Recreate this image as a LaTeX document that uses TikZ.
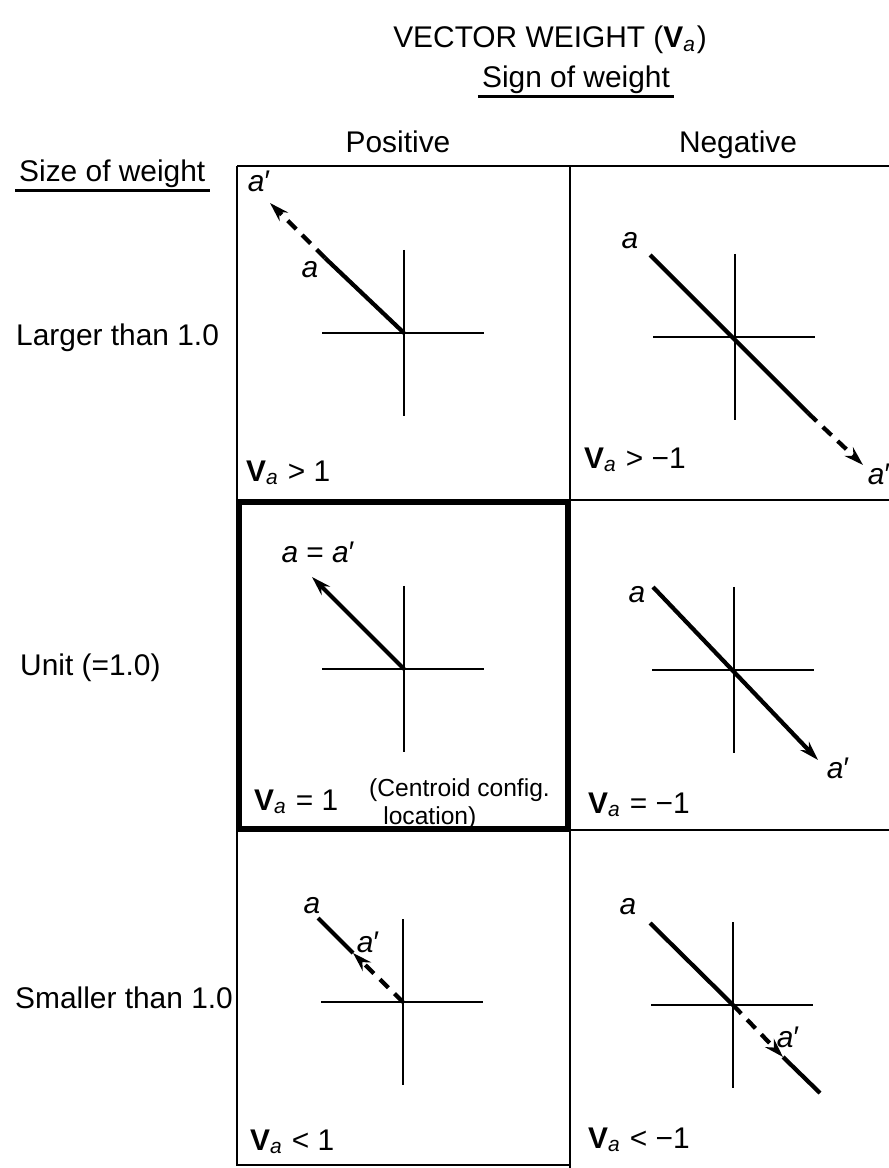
\documentclass[tikz,border=0pt]{standalone}
\usepackage{fontspec}
\setmainfont{Liberation Sans}
\usepackage{tikz}
\usetikzlibrary{positioning, arrows.meta}

\newcommand{\Va}{\textbf{V}\textsubscript{\itshape a}}

\begin{document}
\begin{tikzpicture}[x=0.01cm, y=-0.01cm,
    every node/.style={font=\fontsize{8.5}{10}\selectfont, inner sep=1pt},
    grid/.style={line width=0.8pt},
    axis/.style={line width=0.6pt},
    vec/.style={line width=1.2pt},
    vecdash/.style={vec, dash pattern=on 3.4pt off 2.4pt},
    tip/.style={-{Stealth[length=5.5pt, width=3.4pt]}},
    small/.style={font=\fontsize{7}{8}\selectfont, align=left}]
\useasboundingbox (0,0) rectangle (889,1168);

% headings
\node (title) at (550,40) {VECTOR WEIGHT (\Va)};
\node (signhd) at (576,80) {Sign of weight};
\draw[grid] ([yshift=-2.5pt]signhd.base west) -- ([yshift=-2.5pt]signhd.base east);
\node[anchor=base] (pos) at (398,153) {Positive};
\node[anchor=base] (neg) at (738,153) {Negative};
\node[anchor=west] (sizehd) at (15,174) {Size of weight};
\draw[grid] ([yshift=-2.5pt]sizehd.base west) -- ([yshift=-2.5pt]sizehd.base east);
\node[anchor=west] (larger) at (12,338) {Larger than 1.0};
\node[anchor=west] (unit) at (16,668) {Unit (=1.0)};
\node[anchor=west] (smaller) at (11,998) {Smaller than 1.0};

% table
\draw[grid] (237,166) -- (889,166);
\draw[grid] (237,500) -- (889,500);
\draw[grid] (237,830) -- (889,830);
\draw[grid] (237,166) -- (237,1165) -- (570,1165);
\draw[grid] (570,166) -- (570,1168);
\draw[line width=1.8pt] (239,502) rectangle (568,829);

% axes in every cell
\foreach \c/\cx/\cy in {c11/404/333, c12/735/337, c21/404/669,
                        c22/734/670, c31/403/1002, c32/733/1005} {
  \coordinate (\c) at (\cx,\cy);
  \draw[axis] (\cx-82,\cy) -- (\cx+80,\cy);
  \draw[axis] (\cx,\cy-83) -- (\cx,\cy+83);
}

% positive, larger
\coordinate (a11) at (325,258);
\coordinate (t11) at (270,203);
\draw[vec] (c11) -- (a11);
\draw[vecdash, tip] (a11) -- (t11);
\node (la11) at (259,181) {\textit{a}′};
\node (lb11) at (310,270) {\textit{a}};
\node[anchor=west] (v11) at (242,473) {\Va\ > 1};

% negative, larger
\coordinate (a12) at (650,255);
\coordinate (d12) at (808,413);
\coordinate (t12) at (863,465);
\draw[vec] (a12) -- (d12);
\draw[vecdash, tip] (d12) -- (t12);
\node (la12) at (630,241) {\textit{a}};
\node (lb12) at (879,474) {\textit{a}′};
\node[anchor=west] (v12) at (580,460) {\Va\ > −1};

% positive, unit
\coordinate (t21) at (312,577);
\draw[vec, tip] (c21) -- (t21);
\node (la21) at (318,552) {\textit{a} = \textit{a}′};
\node[anchor=west] (v21) at (250,802) {\Va\ = 1};
\node[small, anchor=west] (note) at (365,804) {(Centroid config.\\\hspace*{4pt}location)};

% negative, unit
\coordinate (a22) at (653,587);
\coordinate (t22) at (818,760);
\draw[vec, tip] (a22) -- (t22);
\node (la22) at (637,595) {\textit{a}};
\node (lb22) at (838,768) {\textit{a}′};
\node[anchor=west] (v22) at (584,805) {\Va\ = −1};

% positive, smaller
\coordinate (a31) at (318,918);
\coordinate (t31) at (353,953);
\draw[vec] (a31) -- (t31);
\draw[vecdash, tip] (c31) -- (t31);
\node (la31) at (312,906) {\textit{a}};
\node (lb31) at (368,942) {\textit{a}′};
\node[anchor=west] (v31) at (246,1142) {\Va\ < 1};

% negative, smaller
\coordinate (a32) at (650,923);
\coordinate (t32) at (783,1057);
\coordinate (e32) at (820,1093);
\draw[vec] (a32) -- (c32);
\draw[vecdash, tip] (c32) -- (t32);
\draw[vec] (t32) -- (e32);
\node (la32) at (628,907) {\textit{a}};
\node (lb32) at (788,1037) {\textit{a}′};
\node[anchor=west] (v32) at (584,1140) {\Va\ < −1};
\end{tikzpicture}
\end{document}
